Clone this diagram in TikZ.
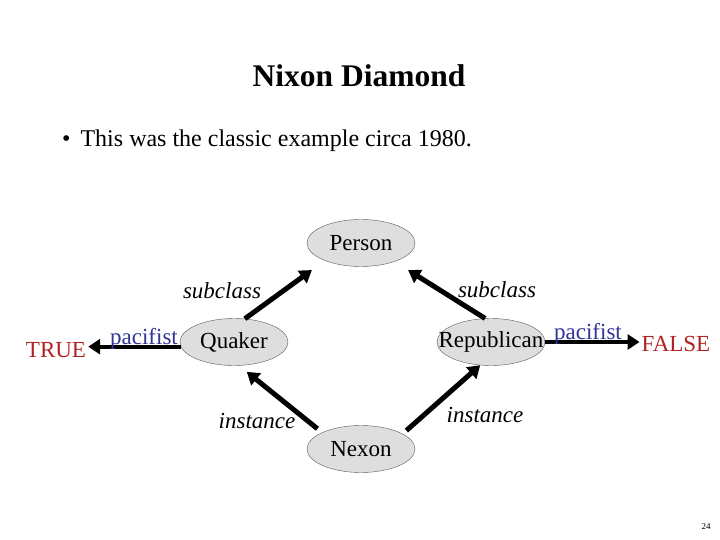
\documentclass[tikz,border=0pt]{standalone}
\usepackage{fontspec}
\setmainfont{Liberation Serif}
\usetikzlibrary{positioning, arrows.meta, shapes.geometric}
\definecolor{valred}{RGB}{178,34,34}
\definecolor{relblue}{RGB}{51,51,153}
\definecolor{classgray}{RGB}{222,222,222}

\begin{document}
\begin{tikzpicture}[
    x=1pt, y=-1pt, on grid,
    every node/.style={font=\fontsize{23}{27}\selectfont},
    cls/.style={draw=black!65, fill=classgray, ellipse, inner sep=0pt, minimum width=108pt, minimum height=47pt},
    rel/.style={anchor=base, font=\fontsize{23}{27}\selectfont\itshape},
    val/.style={anchor=base, text=valred, inner sep=2pt},
    prop/.style={anchor=base, text=relblue, inner sep=0pt},
    arrow/.style={-{Triangle[length=12pt, width=15pt]}, line width=5pt}
  ]
  \useasboundingbox (0,0) rectangle (720,540);
  \node[anchor=base, font=\fontsize{31.5}{36}\selectfont\bfseries] (ttl) at (359,87) {Nixon Diamond};
  \node[anchor=base west, inner sep=0pt, font=\fontsize{24}{28}\selectfont] (pt1) at (62,147) {\textbullet\hspace{10pt}This was the classic example circa 1980.};

  \node[cls]                                    (per) at (361,243) {Person};
  \node[cls, below left=99pt and 127pt of per]  (qua) {Quaker};
  \node[cls, below right=99pt and 130pt of per] (rep) {\makebox[0pt]{Republican}};
  \node[cls, below=206pt of per]                (nex) {Nexon};

  \node[val] (tru) at (56,357) {TRUE};
  \node[val] (fal) at (676,351) {FALSE};

  \draw[arrow, shorten >=16pt] (qua.65) -- (per.206);
  \draw[arrow, shorten >=16pt] (rep.104) -- (per.331);
  \draw[arrow, shorten <=6pt, shorten >=10pt] (nex.157) -- (qua.282);
  \draw[arrow, shorten <=5pt] (nex.20) -- (rep.245);
  \draw[arrow, line width=4pt] (qua.185) -- (qua.185 -| tru.east);
  \draw[arrow, line width=4pt] (rep.east) -- (rep.east -| fal.west);

  \node[rel]  (sub1) at (222,298) {subclass};
  \node[rel]  (sub2) at (497,297) {subclass};
  \node[rel]  (ins1) at (257,428) {instance};
  \node[rel]  (ins2) at (485,422) {instance};
  \node[prop] (pac1) at (144,344) {pacifist};
  \node[prop] (pac2) at (588,339) {pacifist};

  \node[anchor=base, font=\fontsize{9}{11}\selectfont] (pg) at (706,529) {24};
\end{tikzpicture}
\end{document}
